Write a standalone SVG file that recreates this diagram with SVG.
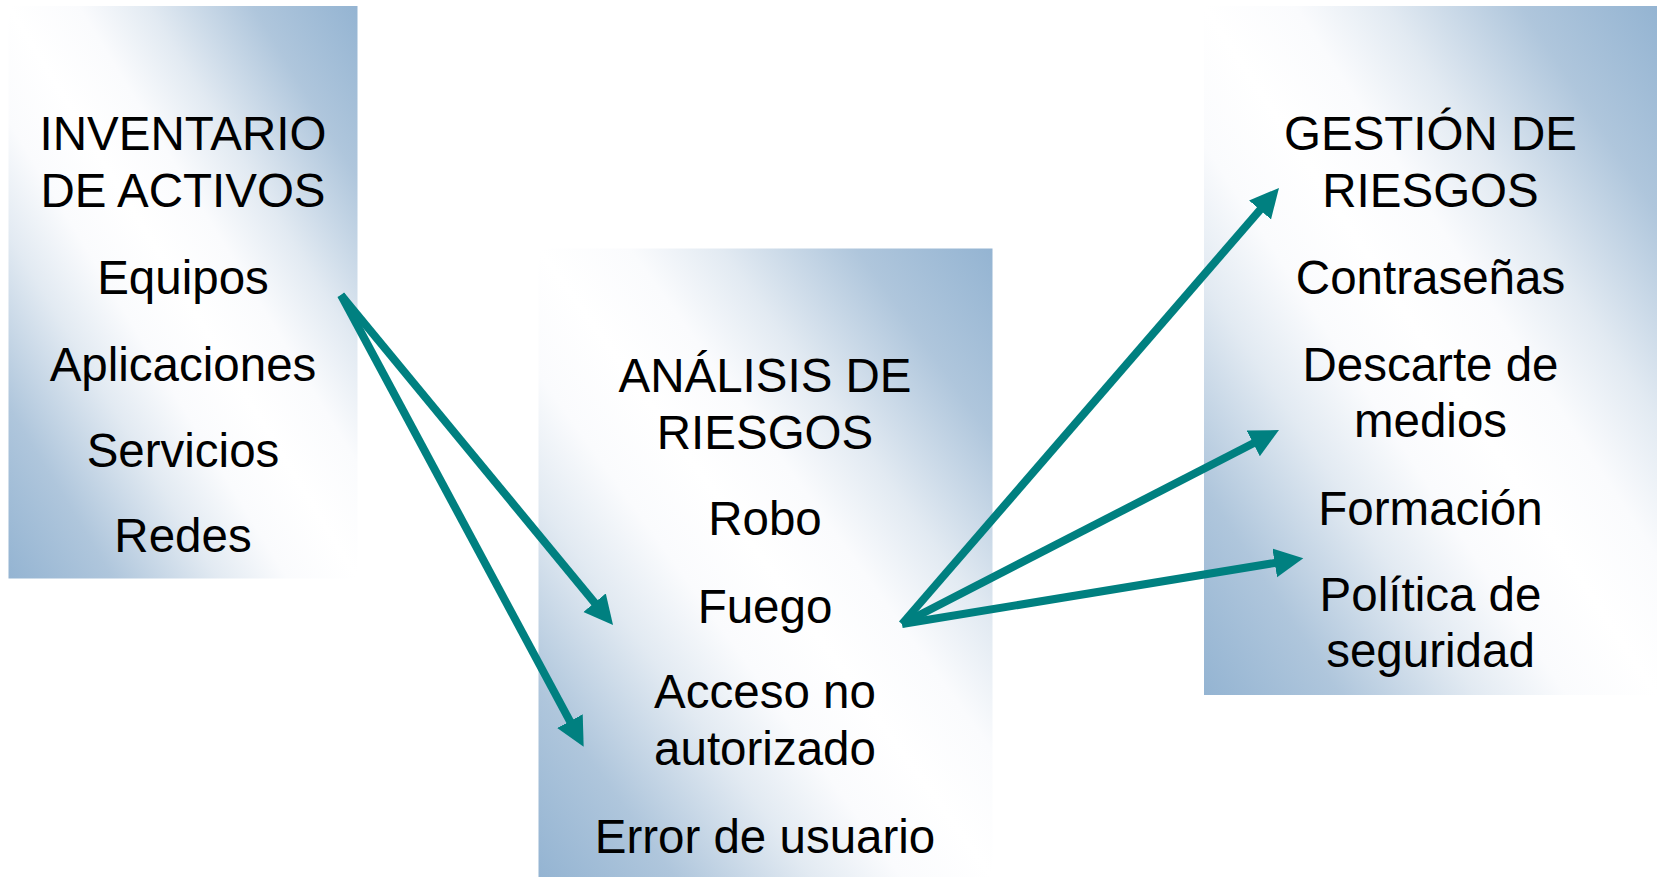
<svg xmlns="http://www.w3.org/2000/svg" width="1659" height="877" viewBox="0 0 1659 877">
<style>
.t{font-family:"Liberation Sans",Arial,sans-serif;font-size:47.5px;fill:#000;text-anchor:middle}
.c{stroke:#008080;stroke-width:8;fill:none}
</style>
<defs>
<linearGradient id="g" x1="1" y1="0" x2="0" y2="1">
<stop offset="0" stop-color="#94b4d2"/>
<stop offset="0.15" stop-color="#afc6dc"/>
<stop offset="0.3" stop-color="#e2eaf2"/>
<stop offset="0.4" stop-color="#fafbfd"/>
<stop offset="0.5" stop-color="#ffffff"/>
<stop offset="0.6" stop-color="#fafbfd"/>
<stop offset="0.7" stop-color="#e2eaf2"/>
<stop offset="0.85" stop-color="#afc6dc"/>
<stop offset="1" stop-color="#94b4d2"/>
</linearGradient>
<marker id="ah" markerUnits="userSpaceOnUse" markerWidth="30" markerHeight="30" viewBox="0 0 30 30" refX="9" refY="14.5" orient="auto">
<path d="M0,0 L29,14.5 L0,29 z" fill="#008080"/>
</marker>
</defs>
<rect width="1659" height="877" fill="#fff"/>
<g id="inventario">
<rect x="8.5" y="6" width="349" height="572.5" fill="url(#g)"/>
<text class="t" x="183" y="150">INVENTARIO</text>
<text class="t" x="183" y="207">DE ACTIVOS</text>
<text class="t" x="183" y="294">Equipos</text>
<text class="t" x="183" y="381">Aplicaciones</text>
<text class="t" x="183" y="467">Servicios</text>
<text class="t" x="183" y="552">Redes</text>
</g>
<g id="analisis">
<rect x="538.5" y="248.5" width="454" height="628.5" fill="url(#g)"/>
<text class="t" x="765" y="391.5">ANÁLISIS DE</text>
<text class="t" x="765" y="448.5">RIESGOS</text>
<text class="t" x="765" y="535">Robo</text>
<text class="t" x="765" y="623">Fuego</text>
<text class="t" x="765" y="708">Acceso no</text>
<text class="t" x="765" y="765">autorizado</text>
<text class="t" x="765" y="853">Error de usuario</text>
</g>
<g id="gestion">
<rect x="1204" y="6" width="453" height="689" fill="url(#g)"/>
<text class="t" x="1430.5" y="150">GESTIÓN DE</text>
<text class="t" x="1430.5" y="207">RIESGOS</text>
<text class="t" x="1430.5" y="294">Contraseñas</text>
<text class="t" x="1430.5" y="381">Descarte de</text>
<text class="t" x="1430.5" y="437">medios</text>
<text class="t" x="1430.5" y="525">Formación</text>
<text class="t" x="1430.5" y="610.5">Política de</text>
<text class="t" x="1430.5" y="667">seguridad</text>
</g>
<g id="connectors">
<path class="c" d="M341,295 L600.3,609.6" marker-end="url(#ah)"/>
<path class="c" d="M341,295 L574.2,729.1" marker-end="url(#ah)"/>
<path class="c" d="M902,624 L1265.9,203.1" marker-end="url(#ah)"/>
<path class="c" d="M902,624 L1261.2,439.2" marker-end="url(#ah)"/>
<path class="c" d="M902,624 L1283.6,561.5" marker-end="url(#ah)"/>
</g>
</svg>
